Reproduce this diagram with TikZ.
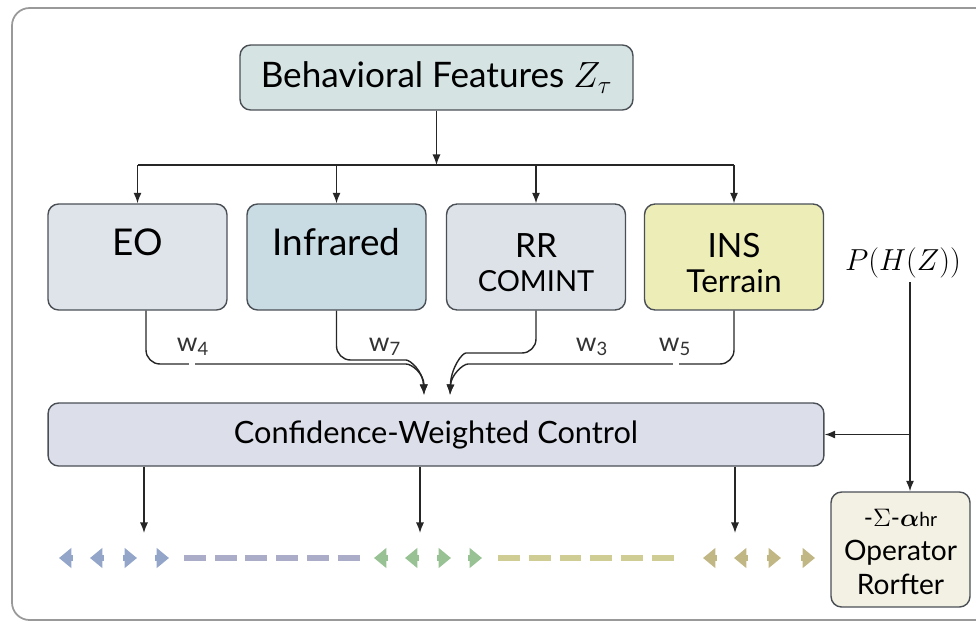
\documentclass[tikz,border=0pt]{standalone}
\usepackage{amsmath,amssymb}
\usepackage{fontspec}
\setsansfont{Lato}
\renewcommand{\familydefault}{\sfdefault}
\usepackage{tikz}
\usetikzlibrary{arrows.meta,positioning}

\definecolor{featfill}{HTML}{D5E3E3}
\definecolor{eofill}{HTML}{DFE4EA}
\definecolor{irfill}{HTML}{C9DBE3}
\definecolor{rrfill}{HTML}{DCE2E8}
\definecolor{insfill}{HTML}{EDEDB8}
\definecolor{conffill}{HTML}{DCDFEA}
\definecolor{opfill}{HTML}{F3F1E4}
\definecolor{boxline}{HTML}{4A4F55}
\definecolor{eoglyph}{HTML}{93A5C8}
\definecolor{eodash}{HTML}{AAACC8}
\definecolor{rrglyph}{HTML}{98C294}
\definecolor{rrdash}{HTML}{CFCD94}
\definecolor{insglyph}{HTML}{C0B784}

\newcommand{\fsz}[1]{\fontsize{#1}{#1}\selectfont}

\begin{document}
\begin{tikzpicture}[x=0.02cm, y=-0.02cm,
    box/.style={draw=boxline, line width=0.8pt, rounded corners=6pt, inner sep=0pt},
    sensor/.style={box, minimum width=3.58cm, minimum height=2.12cm},
    arr/.style={-{Latex[length=6pt,width=4.6pt]}, line width=0.8pt, draw=black!85},
    wire/.style={line width=0.75pt, draw=black!75, rounded corners=8pt},
    wlabel/.style={font=\fsz{15}, text=black!80},
    glyph/.style={line width=3.6pt, -{Triangle[length=7pt,width=11pt]}},
    dashrow/.style={line width=3pt, dash pattern=on 12.5pt off 5pt}]
    \useasboundingbox (0,0) rectangle (976,622);

    % outer frame
    \draw[gray!80, line width=1pt, rounded corners=10pt] (12,8) rectangle (992,620);

    % input features
    \node[box, fill=featfill, minimum width=7.86cm, minimum height=1.3cm,
          font=\fsz{20}] (feat) at (436.5,77.5) {Behavioral Features $Z_\tau$};

    % sensor channels
    \node[sensor, fill=eofill]  (eo)  at (137.5,257) {};
    \node[sensor, fill=irfill]  (ir)  at (336.5,257) {};
    \node[sensor, fill=rrfill]  (rr)  at (536,257) {};
    \node[sensor, fill=insfill] (ins) at (734,257) {};

    \node[font=\fsz{21}] (eo-t)  at ([yshift=0.3cm]eo.center)  {EO};
    \node[font=\fsz{21}] (ir-t)  at ([yshift=0.3cm]ir.center)  {Infrared};
    \node[font=\fsz{19}] (rr-t)  at ([yshift=0.22cm]rr.center) {RR};
    \node[font=\fsz{16.5}] (rr-s)  at ([yshift=-0.48cm]rr.center) {COMINT};
    \node[font=\fsz{19}] (ins-t) at ([yshift=0.22cm]ins.center) {INS};
    \node[font=\fsz{18}] (ins-s) at ([yshift=-0.48cm]ins.center) {Terrain};

    % fan-out
    \coordinate (split) at (436.5,165);
    \draw[arr] (feat) -- (split);
    \draw[line width=0.8pt, black!85] (eo.north |- split) -- (ins.north |- split);
    \foreach \b in {eo,ir,rr,ins}
        \draw[arr] (\b.north |- split) -- (\b.north);

    % fusion
    \node[box, fill=conffill, minimum width=15.52cm, minimum height=1.26cm,
          font=\fsz{17.5}] (conf) at (436,434.5) {Confidence-Weighted Control};

    % weighted inputs
    \coordinate (inL) at (424,395);
    \coordinate (inR) at (450,395);
    \draw[wire, arr] ([xshift=0.17cm]eo.south) |- (392,364)
        .. controls (412,364) and (424,374) .. (inL);
    \draw[wire, arr] (ir.south) |- (392,360)
        .. controls (410,360) and (423,371) .. (inL);
    \draw[wire, arr] (rr.south) |- (480,353)
        .. controls (462,353) and (451,368) .. (inR);
    \draw[wire, arr] (ins.south) |- (482,364)
        .. controls (463,364) and (451,375) .. (inR);
    \draw[white, line width=2pt] (189,364) -- (195,364);
    \draw[white, line width=2pt] (673,364) -- (679,364);

    \node[wlabel] (w4) at (193,347) {w\textsubscript{4}};
    \node[wlabel] (w7) at (385,347) {w\textsubscript{7}};
    \node[wlabel] (w3) at (592,347) {w\textsubscript{3}};
    \node[wlabel] (w5) at (675,347) {w\textsubscript{5}};

    % operator prior
    \node[font=\fsz{18}] (pz) at (903,263) {$P(H(Z))$};
    \node[box, fill=opfill, minimum width=2.78cm, minimum height=2.3cm] (op) at (900.5,549.5) {};
    \node[font=\fsz{14}] (op-a) at ([yshift=0.64cm]op.center) {-$\Sigma$-$\boldsymbol{\alpha}${\fsz{11}hr}};
    \node[font=\fsz{16}] (op-b) at ([yshift=-0.06cm]op.center) {Operator};
    \node[font=\fsz{16}] (op-c) at ([yshift=-0.7cm]op.center) {Rorfter};

    \coordinate (tap) at (910,282);
    \draw[line width=0.8pt, black!85] (tap) -- (tap |- conf.east);
    \draw[arr] (tap |- conf.east) -- (tap |- op.north);
    \draw[arr] (tap |- conf.east) -- (conf.east);

    % outputs
    \foreach \x/\n in {144/d1, 420/d2, 735/d3}
        \coordinate (\n) at (\x,533);
    \foreach \n in {d1,d2,d3}
        \draw[arr] (conf.south -| \n) -- (\n);

    % actuation row
    \foreach \x in {65,96}   \draw[glyph, eoglyph] (\x+8,558) -- (\x-6,558);
    \foreach \x in {131,163} \draw[glyph, eoglyph] (\x-8,558) -- (\x+6,558);
    \draw[dashrow, eodash] (184,558) -- (366,558);
    \foreach \x in {380,411} \draw[glyph, rrglyph] (\x+8,558) -- (\x-6,558);
    \foreach \x in {445,476} \draw[glyph, rrglyph] (\x-8,558) -- (\x+6,558);
    \draw[dashrow, rrdash] (498,558) -- (680,558);
    \foreach \x in {709,740} \draw[glyph, insglyph] (\x+8,558) -- (\x-6,558);
    \foreach \x in {775,809} \draw[glyph, insglyph] (\x-8,558) -- (\x+6,558);
\end{tikzpicture}
\end{document}
